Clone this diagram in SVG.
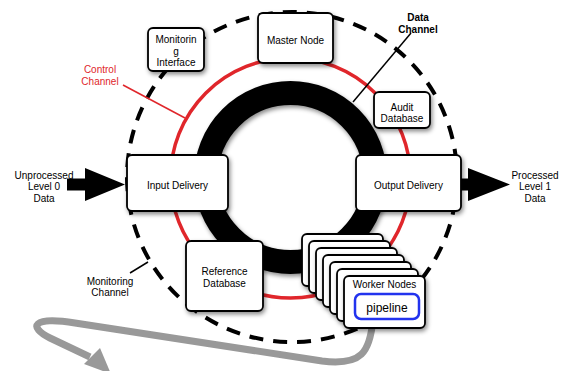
<svg xmlns="http://www.w3.org/2000/svg" width="566" height="371" viewBox="0 0 566 371">
<defs>
<filter id="sh" x="-20%" y="-20%" width="150%" height="150%">
<feDropShadow dx="1.5" dy="2.5" stdDeviation="2" flood-color="#000" flood-opacity="0.45"/>
</filter>
<style>
.box{fill:#fff;stroke:#000;stroke-width:1.8}
.t{font-family:"Liberation Sans",Arial,sans-serif;font-size:10px;fill:#000;text-anchor:middle}
.tb{font-weight:bold}
.red{fill:#e0262b}
</style>
</defs>
<rect width="566" height="371" fill="#fff"/>
<g id="channels">
<circle cx="292" cy="177" r="165" fill="none" stroke="#000" stroke-width="4" stroke-dasharray="14 10"/>
<circle cx="290.5" cy="178" r="120" fill="none" stroke="#e0262b" stroke-width="3.5"/>
<circle cx="290.5" cy="177.5" r="84.5" fill="none" stroke="#000" stroke-width="24" filter="url(#sh)"/>
</g>
<g id="connectors">
<line x1="411" y1="33" x2="353" y2="102" stroke="#000" stroke-width="1.5"/>
<line x1="123" y1="85" x2="185" y2="118" stroke="#e0262b" stroke-width="1.5"/>
<line x1="130" y1="273" x2="148" y2="262" stroke="#000" stroke-width="1.5"/>
<path d="M67 178.5 H87 V190.5 H67 Z M85 168 L125 184.5 L85 201 Z" fill="#000"/>
<path d="M460 178.5 H470 V190.5 H460 Z M468 168 L510 184.5 L468 201 Z" fill="#000"/>
<path d="M373 319 C370 352 362 366 322 361 L75 323 C32 316 28 327 50 338 L90 357" fill="none" stroke="#999" stroke-width="7"/>
<polygon points="84,364 100,348 111,374" fill="#999"/>
</g>
<g id="monitoring-interface">
<rect class="box" x="148" y="28" width="56" height="43" rx="5" filter="url(#sh)"/>
<text class="t" x="176" y="43">Monitorin</text>
<text class="t" x="176" y="54.5">g</text>
<text class="t" x="176" y="66">Interface</text>
</g>
<g id="master-node">
<rect class="box" x="258" y="13" width="75" height="50" rx="5" filter="url(#sh)"/>
<text class="t" x="295.5" y="43.5">Master Node</text>
</g>
<g id="audit-database">
<rect class="box" x="374" y="92" width="56" height="36" rx="5" filter="url(#sh)"/>
<text class="t" x="402" y="110.5">Audit</text>
<text class="t" x="402" y="122">Database</text>
</g>
<g id="input-delivery">
<rect class="box" x="127" y="155" width="101" height="56" rx="5" filter="url(#sh)"/>
<text class="t" x="177.5" y="188.5">Input Delivery</text>
</g>
<g id="output-delivery">
<rect class="box" x="356" y="155" width="105" height="56" rx="5" filter="url(#sh)"/>
<text class="t" x="408.5" y="188.5">Output Delivery</text>
</g>
<g id="reference-database">
<rect class="box" x="186" y="241" width="77" height="70" rx="5" filter="url(#sh)"/>
<text class="t" x="224.5" y="275">Reference</text>
<text class="t" x="224.5" y="287">Database</text>
</g>
<g id="worker-nodes">
<rect class="box" x="302" y="234" width="81" height="52" rx="5" filter="url(#sh)"/>
<rect class="box" x="309" y="241" width="81" height="52" rx="5" filter="url(#sh)"/>
<rect class="box" x="316" y="248" width="81" height="52" rx="5" filter="url(#sh)"/>
<rect class="box" x="323" y="255" width="81" height="52" rx="5" filter="url(#sh)"/>
<rect class="box" x="330" y="262" width="81" height="52" rx="5" filter="url(#sh)"/>
<rect class="box" x="337" y="269" width="81" height="52" rx="5" filter="url(#sh)"/>
<rect class="box" x="344" y="276" width="81" height="52" rx="5" filter="url(#sh)"/>
<text class="t" x="384.5" y="287.5">Worker Nodes</text>
</g>
<g id="pipeline">
<rect x="355" y="294" width="64" height="25" rx="6" fill="#fff" stroke="#2233ee" stroke-width="2.5"/>
<text class="t" x="387" y="311.5" style="font-size:12px">pipeline</text>
</g>
<g id="labels">
<text class="t red" x="100" y="72.5">Control</text>
<text class="t red" x="100" y="84.5">Channel</text>
<text class="t tb" x="418" y="20.5">Data</text>
<text class="t tb" x="418" y="32.5">Channel</text>
<text class="t" x="110" y="284.5">Monitoring</text>
<text class="t" x="110" y="295.5">Channel</text>
<text class="t" x="44" y="178.5">Unprocessed</text>
<text class="t" x="44" y="190">Level 0</text>
<text class="t" x="44" y="201.5">Data</text>
<text class="t" x="535" y="178.5">Processed</text>
<text class="t" x="535" y="190">Level 1</text>
<text class="t" x="535" y="201.5">Data</text>
</g>
</svg>
